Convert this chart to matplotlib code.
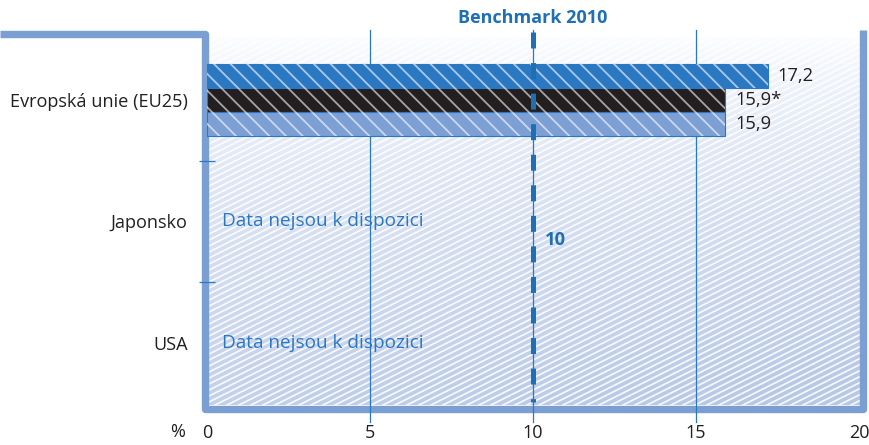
import matplotlib
matplotlib.use('Agg')
import matplotlib.pyplot as plt
import numpy as np
from matplotlib.collections import LineCollection
from matplotlib.path import Path
from matplotlib.patches import PathPatch, Rectangle

# ---- data ----
categories = ["USA", "Japonsko", "Evropská unie (EU25)"]
eu_values = [17.2, 15.9, 15.9]
eu_value_labels = ["17,2", "15,9*", "15,9"]
bar_colors = ["#2b78c2", "#231f20", "#7c9fd4"]
no_data_text = "Data nejsou k dispozici"
benchmark_value = 10
benchmark_title = "Benchmark 2010"
xticks = [0, 5, 10, 15, 20]
xtick_labels = ["0", "5", "10", "15", "20"]

plt.rcParams['font.family'] = ['Open Sans', 'DejaVu Sans']
plt.rcParams['lines.scale_dashes'] = False
plt.rcParams['hatch.linewidth'] = 1.3

W, H = 869, 445
fig = plt.figure(figsize=(W / 100, H / 100), dpi=100)

BLUE = "#1f6fb5"
FRAME = "#7c9fd3"
TXT = "#231f20"

# ---- background decoration (pixel coords) ----
bg = fig.add_axes([0, 0, 1, 1], zorder=0)
bg.set_xlim(0, W)
bg.set_ylim(H, 0)
bg.axis('off')
x0p, x1p, y0p, y1p = 207, 860, 37, 405
ny, nx = 200, 200
yy = np.linspace(0, 1, ny)[:, None]
xx = np.linspace(0, 1, nx)[None, :]
t = np.clip(yy ** 0.75 * 0.85 + xx * 0.2 * yy, 0, 1)
top = np.array([0.99, 0.993, 1.0])
bot = np.array([0.72, 0.785, 0.90])
img = top[None, None, :] * (1 - t[..., None]) + bot[None, None, :] * t[..., None]
bg.imshow(img, extent=(x0p, x1p, y1p, y0p), aspect='auto', zorder=1, interpolation='bilinear')
clip_rect = Rectangle((x0p, y0p), x1p - x0p, y1p - y0p, transform=bg.transData)
segs = []
for c in np.arange(y0p, y1p + 400, 6.0):
    segs.append([(x0p, c), (x1p, c - 0.5 * (x1p - x0p))])
lc = LineCollection(segs, colors='white', linewidths=1.3, alpha=0.85, zorder=2)
bg.add_collection(lc)
lc.set_clip_path(clip_rect)

# frame
verts = [(0, 33.5), (204.5, 33.5), (204.5, 408.5), (862.5, 408.5), (862.5, 30)]
frame = PathPatch(Path(verts), fill=False, edgecolor=FRAME, lw=5.3,
                  joinstyle='round', capstyle='butt', zorder=3)
bg.add_patch(frame)

# ---- main axes ----
L, R, T, B = 207, 859, 37, 405
ax = fig.add_axes([L / W, (H - B) / H, (R - L) / W, (B - T) / H], zorder=2)
ax.set_facecolor('none')
ax.set_xlim(0, 20)
ax.set_ylim(-0.5103, 2.5185)
for s in ax.spines.values():
    s.set_visible(False)

ypos = np.arange(len(categories))
ax.set_yticks(ypos)
ax.set_yticklabels(categories, fontsize=13.1, color=TXT)
ax.set_yticks([0.5, 1.5], minor=True)
ax.tick_params(axis='y', which='major', length=0, pad=14)
ax.tick_params(axis='y', which='minor', length=11, width=0.9, direction='inout', color="#2b78c2")
ax.set_xticks(xticks)
ax.set_xticklabels(xtick_labels, fontsize=13, color=TXT)
ax.tick_params(axis='x', length=0, pad=14)

# gridlines
for xv in [5, 10, 15]:
    ax.axvline(xv, ymin=-0.046, ymax=1.019, color="#2b78c2", lw=0.9, clip_on=False, zorder=1)

# bars
bh = 0.1975
offsets = [bh, 0, -bh]
eu_y = 2
for v, c, off, lab in zip(eu_values, bar_colors, offsets, eu_value_labels):
    ax.barh(eu_y + off, v, height=bh, color=c, edgecolor="#2b78c2", lw=0.8, zorder=3)
    ax.barh(eu_y + off, v, height=bh, color='none', edgecolor='white', lw=0, hatch='\\\\', alpha=0.6, zorder=4)
    ax.text(v + 0.3, eu_y + off, lab, va='center', ha='left', fontsize=13.2, color=TXT)

# benchmark line
ax.plot([benchmark_value, benchmark_value], [2.56, -0.486], color=BLUE, lw=3.6,
        linestyle=(0, (11.5, 10.5)), solid_capstyle='butt', dash_capstyle='butt',
        clip_on=False, zorder=5)
ax.text(benchmark_value, 2.5185 + (37 - 18) / 121.5, benchmark_title, ha='center', va='center',
        fontsize=13, fontweight='bold', color=BLUE)
ax.text(benchmark_value + 0.35, 1 - (240 - 221.5) / 121.5, str(benchmark_value), ha='left', va='center',
        fontsize=13.2, fontweight='bold', color=BLUE)

# no data texts
for yv in [0, 1]:
    ax.text(0.45, yv, no_data_text, ha='left', va='center', fontsize=13.7, color="#2b78c2")

fig.text(178 / W, 1 - 432 / H, "%", ha='center', va='center', fontsize=13, color=TXT)

fig.savefig('out.png', dpi=100)
